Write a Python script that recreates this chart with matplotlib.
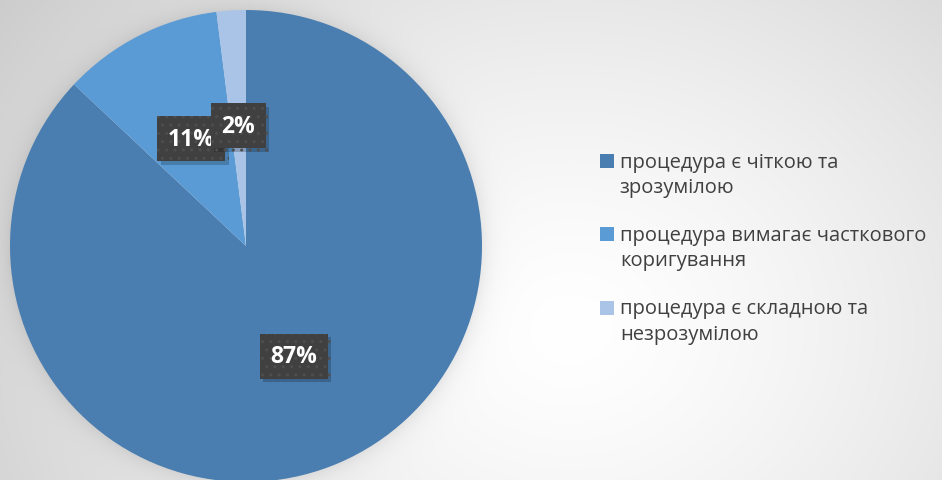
import numpy as np
import matplotlib.pyplot as plt
import matplotlib.patheffects as pe

labels = [
    "процедура є чіткою та\nзрозумілою",
    "процедура вимагає часткового\nкоригування",
    "процедура є складною та\nнезрозумілою",
]
shares = [87, 11, 2]
colors = ["#4A7EB0", "#5B9BD5", "#A9C4E6"]

W, H = 942, 481
plt.rcParams["font.family"] = ["Open Sans", "DejaVu Sans"]
plt.rcParams["hatch.linewidth"] = 1.0

fig = plt.figure(figsize=(W / 100, H / 100), dpi=100)

# background: soft radial gradient, plus a faint shadow round the pie
bg = fig.add_axes([0, 0, 1, 1])
yy, xx = np.mgrid[0:H, 0:W]
d = np.hypot(xx - 570, (yy - 330) * 1.2) / 620
shade = 1.0 - 0.17 * np.clip(d, 0, 1.2) ** 1.4
rp = np.hypot(xx - 246, yy - 247)
halo = np.exp(-np.clip(rp - 236, 0, None) / 10.0) * (rp > 230)
shade = shade - 0.07 * halo
bg.imshow(np.dstack([shade] * 3), extent=[0, W, H, 0], aspect="auto")
bg.axis("off")

ax = fig.add_axes([10 / W, -2 / H, 472 / W, 472 / H])
wedges, _, pcts = ax.pie(
    shares,
    colors=colors,
    startangle=90,
    counterclock=False,
    autopct="%d%%",
    pctdistance=0.51,
    radius=1.0,
    wedgeprops=dict(linewidth=0),
)
ax.set_xlim(-1.0, 1.0)
ax.set_ylim(-1.0, 1.0)
ax.set_aspect("equal")

for t in pcts:
    t.set_color("white")
    t.set_fontsize(16.5)
    t.set_fontweight("bold")
    t.set_bbox(dict(boxstyle="square,pad=0.46", fc="#404040", ec="#4e4e4e",
                    lw=0, hatch=".."))
    t.get_bbox_patch().set_path_effects(
        [pe.SimplePatchShadow(offset=(2.5, -2.5), shadow_rgbFace="black", alpha=0.2),
         pe.Normal()])

leg = fig.legend(
    wedges,
    labels,
    loc="center left",
    bbox_to_anchor=(0.637, 0.483),
    frameon=False,
    fontsize=14.5,
    labelcolor="#404040",
    handlelength=0.68,
    handleheight=0.68,
    handletextpad=0.3,
    labelspacing=1.4,
    borderaxespad=0,
    borderpad=0,
)
for t in leg.get_texts():
    t.set_linespacing(1.35)
# put each legend square next to the first line of its label
for p in leg.get_patches():
    p.set_y(p.get_y() + 10)

fig.savefig("out.png", dpi=100)
